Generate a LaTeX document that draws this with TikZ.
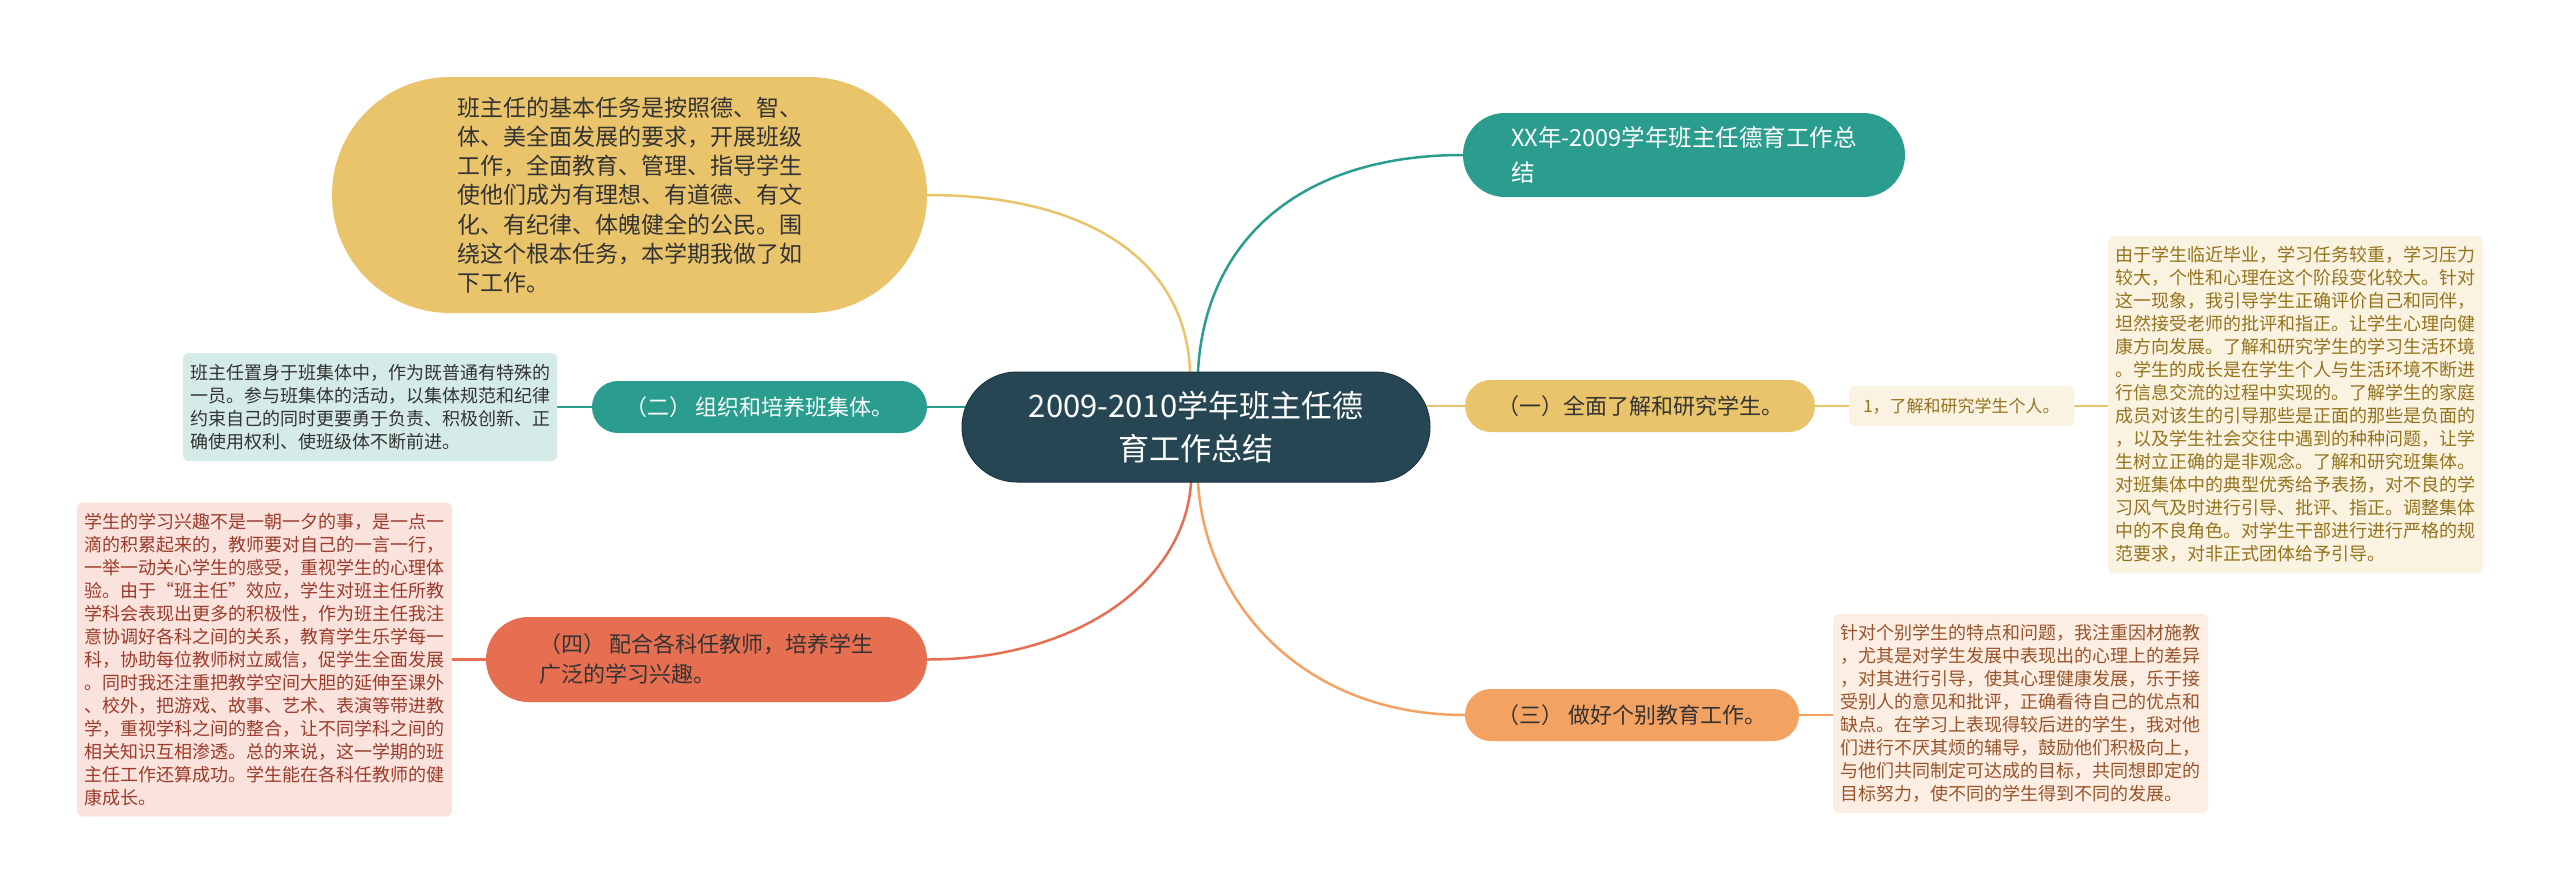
\documentclass[tikz,border=0pt]{standalone}
\usepackage{fontspec}
\setmainfont{Noto Sans CJK SC}
\usetikzlibrary{backgrounds,calc}
\definecolor{cdark}{HTML}{264653}
\definecolor{cdarkline}{HTML}{1C3540}
\definecolor{cteal}{HTML}{2A9D8F}
\definecolor{cyel}{HTML}{E9C46A}
\definecolor{csand}{HTML}{F4A261}
\definecolor{ccoral}{HTML}{E76F51}
\definecolor{lteal}{HTML}{D5EBE8}
\definecolor{lyel}{HTML}{FBF3E2}
\definecolor{lsand}{HTML}{FDEEE3}
\definecolor{lcoral}{HTML}{FBE3DD}
\definecolor{tdark}{HTML}{333333}
\definecolor{tyel}{HTML}{94731C}
\definecolor{tsand}{HTML}{99532A}
\definecolor{tcoral}{HTML}{9C3B2A}
\begin{document}
\begin{tikzpicture}[x=1pt,y=-1pt,
  base/.style={inner sep=0pt, align=left},
  rootbox/.style={base, align=center, fill=cdark, draw=cdarkline, line width=1pt, text=white,
    minimum width=468pt, minimum height=110pt, rounded corners=54.9pt,
    font=\fontsize{31pt}{43pt}\selectfont},
  topicbox/.style={base, minimum height=#1, rounded corners=#1/2-0.1pt,
    font=\fontsize{22pt}{30pt}\selectfont},
  notebox/.style={base, rounded corners=6pt, font=\fontsize{18pt}{23pt}\selectfont},
  conn/.style={line width=2.5pt, line cap=round}
]
\useasboundingbox (0,0) rectangle (2560,894);

% root
\node[rootbox] (c) at (1196,427) {2009-2010学年班主任德\\育工作总结};

% top right
\node[topicbox=84pt, fill=cteal, text=white, minimum width=442pt,
  font=\fontsize{23.5pt}{35pt}\selectfont] (xx) at (1684,155)
  {XX年-2009学年班主任德育工作总\\结};

% top left bubble
\node[topicbox=236pt, fill=cyel, text=tdark, minimum width=595pt,
  font=\fontsize{23pt}{29.2pt}\selectfont] (bub) at (629.5,195)
  {班主任的基本任务是按照德、智、\\体、美全面发展的要求，开展班级\\工作，全面教育、管理、指导学生\\使他们成为有理想、有道德、有文\\化、有纪律、体魄健全的公民。围\\绕这个根本任务，本学期我做了如\\下工作。};

% (二)
\node[topicbox=52pt, fill=cteal, text=white, minimum width=335pt] (n2) at (759.5,407)
  {（二） 组织和培养班集体。};
\node[notebox, fill=lteal, text=tdark, minimum width=374pt, minimum height=108pt] (t2) at (370,407)
  {班主任置身于班集体中，作为既普通有特殊的\\一员。参与班集体的活动，以集体规范和纪律\\约束自己的同时更要勇于负责、积极创新、正\\确使用权利、使班级体不断前进。};

% (四)
\node[topicbox=85pt, fill=ccoral, text=tdark, minimum width=441pt] (n4) at (706.5,659.5)
  {（四） 配合各科任教师，培养学生\\广泛的学习兴趣。};
\node[notebox, fill=lcoral, text=tcoral, minimum width=375pt, minimum height=314pt] (t4) at (264.5,659.5)
  {学生的学习兴趣不是一朝一夕的事，是一点一\\滴的积累起来的，教师要对自己的一言一行，\\一举一动关心学生的感受，重视学生的心理体\\验。由于“班主任”效应，学生对班主任所教\\学科会表现出更多的积极性，作为班主任我注\\意协调好各科之间的关系，教育学生乐学每一\\科，协助每位教师树立威信，促学生全面发展\\。同时我还注重把教学空间大胆的延伸至课外\\、校外，把游戏、故事、艺术、表演等带进教\\学，重视学科之间的整合，让不同学科之间的\\相关知识互相渗透。总的来说，这一学期的班\\主任工作还算成功。学生能在各科任教师的健\\康成长。};

% (一)
\node[topicbox=52pt, fill=cyel, text=tdark, minimum width=350pt] (n1) at (1640,406)
  {（一）全面了解和研究学生。};
\node[notebox, fill=lyel, text=tyel, minimum width=225pt, minimum height=40pt,
  font=\fontsize{17pt}{21pt}\selectfont] (s1) at (1961.5,406)
  {1，了解和研究学生个人。};
\node[notebox, fill=lyel, text=tyel, minimum width=375pt, minimum height=337pt] (t1) at (2295.5,404.5)
  {由于学生临近毕业，学习任务较重，学习压力\\较大，个性和心理在这个阶段变化较大。针对\\这一现象，我引导学生正确评价自己和同伴，\\坦然接受老师的批评和指正。让学生心理向健\\康方向发展。了解和研究学生的学习生活环境\\。学生的成长是在学生个人与生活环境不断进\\行信息交流的过程中实现的。了解学生的家庭\\成员对该生的引导那些是正面的那些是负面的\\，以及学生社会交往中遇到的种种问题，让学\\生树立正确的是非观念。了解和研究班集体。\\对班集体中的典型优秀给予表扬，对不良的学\\习风气及时进行引导、批评、指正。调整集体\\中的不良角色。对学生干部进行进行严格的规\\范要求，对非正式团体给予引导。};

% (三)
\node[topicbox=52pt, fill=csand, text=tdark, minimum width=334pt] (n3) at (1632,715)
  {（三） 做好个别教育工作。};
\node[notebox, fill=lsand, text=tsand, minimum width=375pt, minimum height=199pt] (t3) at (2020.5,713.5)
  {针对个别学生的特点和问题，我注重因材施教\\，尤其是对学生发展中表现出的心理上的差异\\，对其进行引导，使其心理健康发展，乐于接\\受别人的意见和批评，正确看待自己的优点和\\缺点。在学习上表现得较后进的学生，我对他\\们进行不厌其烦的辅导，鼓励他们积极向上，\\与他们共同制定可达成的目标，共同想即定的\\目标努力，使不同的学生得到不同的发展。};

\begin{pgfonlayer}{background}
\fill[white] (0,0) rectangle (2560,894);
% root connectors
\draw[conn, cyel] ($(c.north)+(-6,0)$) .. controls (1186,262) and (1090,195) .. (bub.east);
\draw[conn, cteal] ($(c.north)+(2,0)$) .. controls (1205,240) and (1300,155) .. (xx.west);
\draw[conn, cteal] (n2.center) -- (n2.center -| c.center);
\draw[conn, cyel] (c.center |- n1.center) -- (n1.center);
\draw[conn, ccoral] ($(c.south)+(-5,0)$) .. controls (1185,580) and (1080,659.5) .. (n4.east);
\draw[conn, csand] ($(c.south)+(2,0)$) .. controls (1205,600) and (1300,715) .. (n3.west);
% sub connectors
\draw[conn, cteal] (n2.center) -- (t2.center);
\draw[conn, ccoral] (n4.center) -- (t4.center);
\draw[conn, cyel] (n1.center) -- (s1.center) -- (s1.center -| t1.center);
\draw[conn, csand] (n3.center) -- (n3.center -| t3.center);
\end{pgfonlayer}
\end{tikzpicture}
\end{document}
